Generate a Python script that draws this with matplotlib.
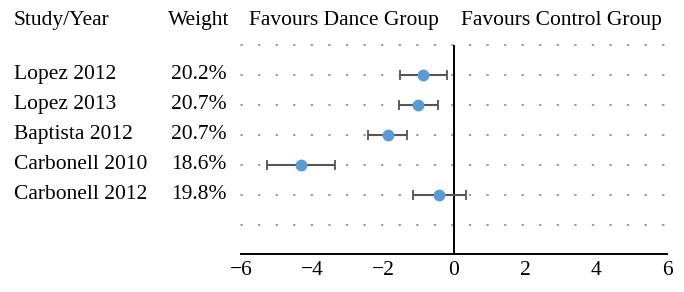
import matplotlib
matplotlib.use("Agg")
import matplotlib.pyplot as plt
from matplotlib.transforms import blended_transform_factory

studies = ["Lopez 2012", "Lopez 2013", "Baptista 2012", "Carbonell 2010", "Carbonell 2012"]
weights = ["20.2%", "20.7%", "20.7%", "18.6%", "19.8%"]
estimates = [-0.87, -1.01, -1.86, -4.32, -0.42]
ci_low = [-1.53, -1.55, -2.42, -5.26, -1.15]
ci_high = [-0.21, -0.46, -1.31, -3.36, 0.33]
xticks = [-6, -4, -2, 0, 2, 4, 6]

plt.rcParams['font.family'] = ['Liberation Serif', 'DejaVu Serif']
FS = 15.5

fig = plt.figure(figsize=(6.84, 2.92), dpi=100)
ax = fig.add_axes([241/684, 38/292, 426/684, 209/292])

rows = list(range(1, len(studies) + 1))
# dotted grid rows
for r in range(0, len(studies) + 2):
    ax.plot([-6, 6], [r, r], color="#7a7a7a", lw=1.1, linestyle=(0, (0.8, 10.7)),
            zorder=1, clip_on=False, dash_capstyle="round")

ax.axvline(0, color="black", lw=1.4, zorder=2)

xerr = [[e - l for e, l in zip(estimates, ci_low)], [h - e for e, h in zip(estimates, ci_high)]]
ax.errorbar(estimates, rows, xerr=xerr, fmt="none", ecolor="#555555", elinewidth=1.5,
            capsize=3.5, capthick=1.3, zorder=3)
ax.plot(estimates, rows, "o", color="#5b9bd5", markersize=7.5, zorder=4)

ax.set_xlim(-6, 6)
ax.set_ylim(len(studies) + 1.97, 0)
ax.set_xticks(xticks)
ax.set_yticks([])
for s in ["top", "right", "left"]:
    ax.spines[s].set_visible(False)
ax.spines["bottom"].set_linewidth(1.4)
ax.tick_params(axis="x", length=0, labelsize=FS, pad=5)

tr = blended_transform_factory(fig.transFigure, ax.transData)
hy = -0.83
ax.text(14/684, hy, "Study/Year", transform=tr, ha="left", va="center", fontsize=FS, clip_on=False)
ax.text(229/684, hy, "Weight", transform=tr, ha="right", va="center", fontsize=FS, clip_on=False)
ax.text(-3.1, hy, "Favours Dance Group", ha="center", va="center", fontsize=FS, clip_on=False)
ax.text(3.04, hy, "Favours Control Group", ha="center", va="center", fontsize=FS, clip_on=False)

for r, s, w in zip(rows, studies, weights):
    ax.text(14/684, r, s, transform=tr, ha="left", va="center", fontsize=FS, clip_on=False)
    ax.text(227/684, r, w, transform=tr, ha="right", va="center", fontsize=FS, clip_on=False)

fig.savefig("out.png", dpi=100)
